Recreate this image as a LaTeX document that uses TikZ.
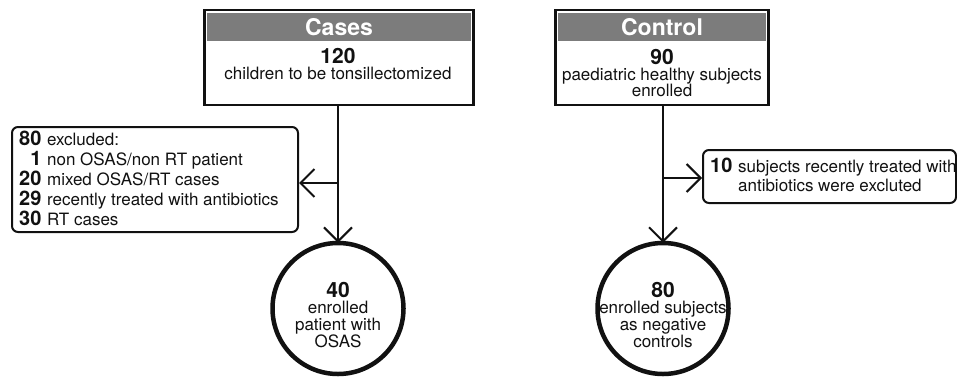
\documentclass[tikz,border=0pt]{standalone}
\usepackage{fontspec}
\setmainfont{TeX Gyre Heros}
\usetikzlibrary{arrows.meta}
\definecolor{hdrgray}{HTML}{7C7C7C}
\definecolor{ink}{HTML}{111111}
\newcommand{\listnumfont}{\fontsize{20}{19}\selectfont\bfseries}
\begin{document}
\begin{tikzpicture}[x=1pt,y=-1pt,
  box/.style={draw=ink, line width=2.6pt, inner sep=0pt, fill=white},
  rbox/.style={draw=ink, line width=2pt, rounded corners=6pt, inner sep=0pt},
  hdr/.style={fill=hdrgray, inner sep=0pt, text=white, font=\fontsize{23}{23}\selectfont\bfseries},
  num/.style={inner sep=0pt, anchor=base, text=ink, font=\fontsize{21}{21}\selectfont\bfseries},
  txt/.style={inner sep=0pt, anchor=base, text=ink, font=\fontsize{17}{19}\selectfont},
  circ/.style={draw=ink, circle, line width=4.5pt, inner sep=0pt, minimum size=131pt},
  conn/.style={draw=ink, line width=2pt, -{Straight Barb[length=14pt,width=28pt,line width=2pt]}}
]
\useasboundingbox (0,0) rectangle (957,378);

% Cases box
\node[box, minimum width=269pt, minimum height=95pt] (casesbox) at (339,57.5) {};
\node[hdr, minimum width=264pt, minimum height=28pt] (caseshdr) at (339,27) {Cases};
\node[num] (casesnum) at (338,63) {120};
\node[txt] (casestxt) at (338,79) {children to be tonsillectomized};

% Control box
\node[box, minimum width=213pt, minimum height=95pt] (ctrlbox) at (662,57.5) {};
\node[hdr, minimum width=208pt, minimum height=28pt] (ctrlhdr) at (662,27) {Control};
\node[num] (ctrlnum) at (662,64) {90};
\node[txt] (ctrltxta) at (662,80) {paediatric healthy subjects};
\node[txt] (ctrltxtb) at (662,96) {enrolled};

% Excluded box (cases)
\node[rbox, minimum width=286pt, minimum height=105pt] (exclbox) at (155,179.5) {};
\node[txt, anchor=west] (excltxt) at (19,181) {\renewcommand{\arraystretch}{1}%
  \begin{tabular}{@{}r@{\,\,}l@{}}
  {\listnumfont 80} & excluded:\\
  {\listnumfont 1} & non OSAS/non RT patient\\
  {\listnumfont 20} & mixed OSAS/RT cases\\
  {\listnumfont 29} & recently treated with antibiotics\\
  {\listnumfont 30} & RT cases
  \end{tabular}};

% Excluded box (control)
\node[rbox, minimum width=253pt, minimum height=53pt] (ctrlexcl) at (829.5,176.5) {};
\node[txt, anchor=west] (ctrlexcltxt) at (710,178) {\renewcommand{\arraystretch}{1}%
  \begin{tabular}{@{}r@{\,\,}l@{}}
  {\listnumfont 10} & subjects recently treated with\\
   & antibiotics were excluted
  \end{tabular}};

% Circles
\node[circ] (casescirc) at (338,308.5) {};
\node[num] (circnuma) at (338,297) {40};
\node[txt] (circa1) at (338,313) {enrolled};
\node[txt] (circa2) at (338,330) {patient with};
\node[txt] (circa3) at (338,347) {OSAS};

\node[circ] (ctrlcirc) at (663,308.5) {};
\node[num] (circnumb) at (663,297) {80};
\node[txt] (circb1) at (663,313) {enrolled subjects};
\node[txt] (circb2) at (663,330) {as negative};
\node[txt] (circb3) at (663,347) {controls};

% Connectors
\coordinate (casesbranch) at (338,183);
\coordinate (ctrlbranch) at (663,178);
\draw[conn, shorten >=-2pt] (casesbox.south -| casescirc.north) -- (casescirc.north);
\draw[conn, shorten >=-2pt] (ctrlbox.south -| ctrlcirc.north) -- (ctrlcirc.north);
\draw[conn] (casesbranch) -- (casesbranch -| exclbox.east);
\draw[conn] (ctrlbranch) -- (ctrlbranch -| ctrlexcl.west);
\end{tikzpicture}
\end{document}
